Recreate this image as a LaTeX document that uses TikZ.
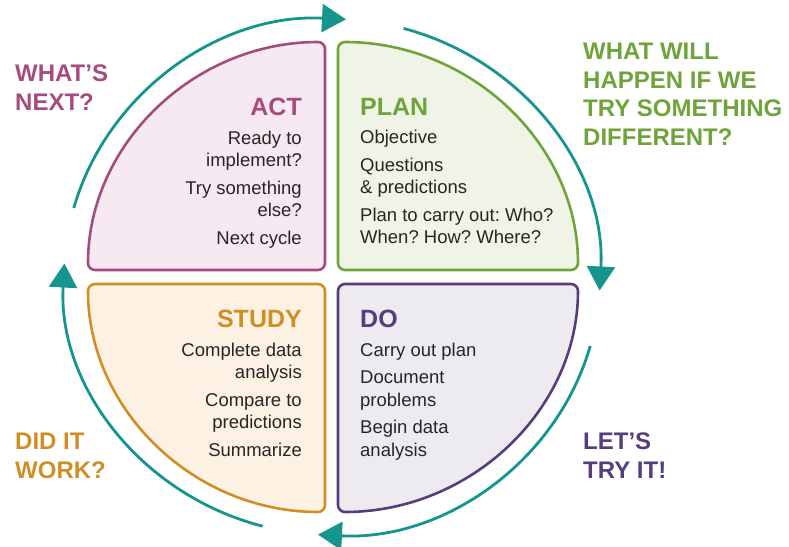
\documentclass[tikz,border=0pt]{standalone}
\usepackage{fontspec}
\setmainfont{Liberation Sans}
\usetikzlibrary{arrows.meta}
\frenchspacing

\definecolor{cyclec}{HTML}{16958F}
\definecolor{bodyc}{HTML}{262626}
\definecolor{actc}{HTML}{A64B7E}
\definecolor{actfill}{HTML}{F7E9F1}
\definecolor{planc}{HTML}{6FA43A}
\definecolor{planfill}{HTML}{EFF4E6}
\definecolor{studyc}{HTML}{D08F26}
\definecolor{studyfill}{HTML}{FCF1E2}
\definecolor{doc}{HTML}{563D7C}
\definecolor{dofill}{HTML}{EDEBF0}

\newcommand{\phead}[2]{\textcolor{#1}{\fontsize{25}{28}\selectfont\bfseries #2}}

\begin{document}
\begin{tikzpicture}[x=1pt, y=1pt,
        quad/.style={line width=2.6pt, rounded corners=7pt},
        body/.style={inner sep=0pt, text=bodyc, font=\fontsize{18.5}{22.5}\selectfont},
        side/.style={inner sep=0pt, align=left, font=\fontsize{24}{28.5}\selectfont\bfseries},
        cyc/.style={cyclec, line width=2.8pt, -{Triangle[length=24pt, width=28pt]}}]
        \useasboundingbox (0,0) rectangle (789,546);

        % Quadrants
        \draw[quad, actc, fill=actfill] (325,276) -- (88,276)
            arc[start angle=180, end angle=90, x radius=237, y radius=228] -- cycle;
        \draw[quad, planc, fill=planfill] (338,276) -- (338,504)
            arc[start angle=90, end angle=0, x radius=240, y radius=228] -- cycle;
        \draw[quad, studyc, fill=studyfill] (325,262) -- (325,34)
            arc[start angle=270, end angle=180, x radius=237, y radius=228] -- cycle;
        \draw[quad, doc, fill=dofill] (338,262) -- (578,262)
            arc[start angle=0, end angle=-90, x radius=240, y radius=228] -- cycle;

        % Quadrant texts
        \node (act) at (302,448) [body, anchor=north east, align=right]
            {\phead{actc}{ACT}\\[6pt] Ready to\\ implement?\\[5pt] Try something\\ else?\\[5pt] Next cycle};
        \node (plan) at (360,448) [body, anchor=north west, align=left]
            {\phead{planc}{PLAN}\\[6pt] Objective\\[5pt] Questions\\ \& predictions\\[5pt] Plan to carry out: Who?\\ When? How? Where?};
        \node (study) at (302,236) [body, anchor=north east, align=right]
            {\phead{studyc}{STUDY}\\[6pt] Complete data\\ analysis\\[5pt] Compare to\\ predictions\\[5pt] Summarize};
        \node (do) at (360,236) [body, anchor=north west, align=left]
            {\phead{doc}{DO}\\[6pt] Carry out plan\\[5pt] Document\\ problems\\[5pt] Begin data\\ analysis};

        % Questions
        \node (qact) at (15,481) [side, anchor=north west, text=actc] {WHAT’S\\NEXT?};
        \node (qplan) at (583,503) [side, anchor=north west, text=planc] {WHAT WILL\\HAPPEN IF WE\\TRY SOMETHING\\DIFFERENT?};
        \node (qstudy) at (15,113) [side, anchor=north west, text=studyc] {DID IT\\WORK?};
        \node (qdo) at (583,113) [side, anchor=north west, text=doc] {LET’S\\TRY IT!};

        % Cycle arrows
        \coordinate (c) at (332,269);
        \draw[cyc] (c) ++(164.5:268 and 258) arc[start angle=164.5, end angle=87, x radius=268, y radius=258];
        \draw[cyc] (c) ++(74.5:268 and 258) arc[start angle=74.5, end angle=-3, x radius=268, y radius=258];
        \draw[cyc] (c) ++(-15.5:268 and 258) arc[start angle=-15.5, end angle=-93, x radius=268, y radius=258];
        \draw[cyc] (c) ++(-105:268 and 258) arc[start angle=-105, end angle=-183, x radius=268, y radius=258];
\end{tikzpicture}
\end{document}
